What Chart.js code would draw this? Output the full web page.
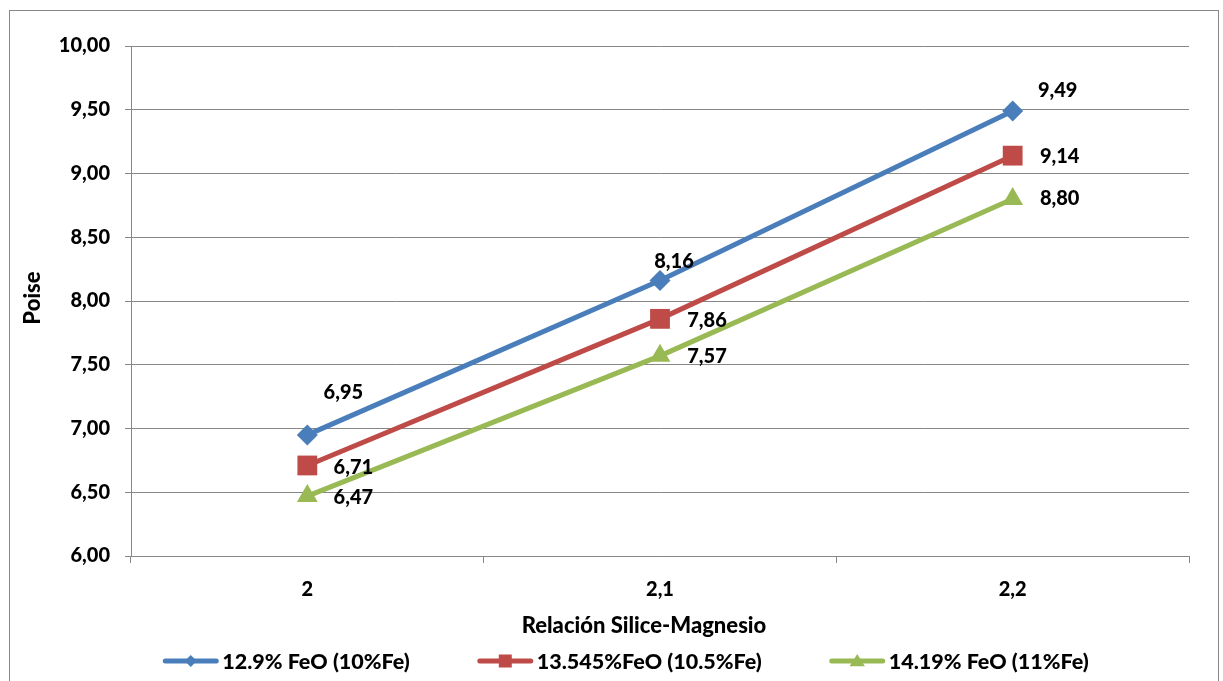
<!DOCTYPE html>
<html>
<head>
<meta charset="utf-8">
<title>Poise vs Relación Silice-Magnesio</title>
<script src="https://cdn.jsdelivr.net/npm/chart.js@4/dist/chart.umd.min.js"></script>
<style>
  html, body { margin: 0; padding: 0; background: #ffffff; }
  #wrap { width: 1223px; height: 681px; }
</style>
</head>
<body>
<div id="wrap"><canvas id="chart" width="1223" height="681"></canvas></div>
<script>
// Categories (Relación Silice-Magnesio) and viscosity series (Poise)
const categories = ['2', '2,1', '2,2'];
const seriesNames = ['12.9% FeO (10%Fe)', '13.545%FeO (10.5%Fe)', '14.19% FeO (11%Fe)'];
const feo129 = [6.95, 8.16, 9.49];
const feo13545 = [6.71, 7.86, 9.14];
const feo1419 = [6.47, 7.57, 8.80];
const yTicks = [6.0, 6.5, 7.0, 7.5, 8.0, 8.5, 9.0, 9.5, 10.0];
const xTitle = 'Relación Silice-Magnesio';
const yTitle = 'Poise';

const FONT = 'Lato, "Open Sans", sans-serif';
const WEIGHT = '900';
const GRID = '#878787';
const fmt = v => v.toFixed(2).replace('.', ',');

// Where each value label sits relative to its marker (dx, dy in px)
const labelOffsets = [
  [[36, -42], [14, -19], [45, -20]],
  [[46, 2], [47, 2], [47, 1]],
  [[46, 1], [47, 1], [47, 0]]
];

const frame = {
  id: 'frame',
  beforeDraw(chart) {
    const ctx = chart.ctx;
    ctx.save();
    ctx.fillStyle = '#ffffff';
    ctx.fillRect(0, 0, chart.width, chart.height);
    ctx.strokeStyle = GRID;
    ctx.lineWidth = 1;
    ctx.strokeRect(9.5, 10.5, 1209, 720);
    ctx.restore();
  }
};

// Axis titles, placed by hand
const axisTitles = {
  id: 'axisTitles',
  afterDraw(chart) {
    const ctx = chart.ctx;
    ctx.save();
    ctx.fillStyle = '#000000';
    ctx.textAlign = 'center';
    ctx.textBaseline = 'middle';
    ctx.font = WEIGHT + ' 22px ' + FONT;
    ctx.fillText(xTitle, 644, 626);
    ctx.translate(33, 298);
    ctx.rotate(-Math.PI / 2);
    ctx.fillText(yTitle, 0, 0);
    ctx.restore();
  }
};

const valueLabels = {
  id: 'valueLabels',
  afterDatasetsDraw(chart) {
    const ctx = chart.ctx;
    ctx.save();
    ctx.font = WEIGHT + ' 20px ' + FONT;
    ctx.fillStyle = '#000000';
    ctx.textAlign = 'center';
    ctx.textBaseline = 'middle';
    chart.data.datasets.forEach((ds, i) => {
      const meta = chart.getDatasetMeta(i);
      meta.data.forEach((pt, j) => {
        const off = labelOffsets[i][j];
        ctx.fillText(fmt(ds.data[j]), pt.x + off[0], pt.y + off[1]);
      });
    });
    ctx.restore();
  }
};

function drawMarker(ctx, style, x, y, r, color) {
  ctx.save();
  ctx.fillStyle = color;
  ctx.beginPath();
  if (style === 'rectRot') {
    ctx.moveTo(x, y - r); ctx.lineTo(x + r, y); ctx.lineTo(x, y + r); ctx.lineTo(x - r, y);
  } else if (style === 'rect') {
    ctx.rect(x - r, y - r, 2 * r, 2 * r);
  } else {
    ctx.moveTo(x, y - r); ctx.lineTo(x + r * 1.1, y + r * 0.75); ctx.lineTo(x - r * 1.1, y + r * 0.75);
  }
  ctx.closePath();
  ctx.fill();
  ctx.restore();
}

// Legend drawn as line + marker samples along the bottom
const lineLegend = {
  id: 'lineLegend',
  afterDraw(chart) {
    const ctx = chart.ctx;
    const lineLen = 55, gap = 4, spacing = 68, cy = 661, centerX = 626;
    ctx.save();
    ctx.font = WEIGHT + ' 21.5px ' + FONT;
    const widths = chart.data.datasets.map(ds => ctx.measureText(ds.label).width);
    const total = widths.reduce((a, w) => a + lineLen + gap + w, 0) + spacing * (widths.length - 1);
    let x = centerX - total / 2;
    const sizes = [6, 6.5, 7];
    chart.data.datasets.forEach((ds, i) => {
      ctx.strokeStyle = ds.borderColor;
      ctx.lineWidth = 5;
      ctx.lineCap = 'round';
      ctx.beginPath();
      ctx.moveTo(x + 2, cy); ctx.lineTo(x + lineLen - 2, cy);
      ctx.stroke();
      drawMarker(ctx, ds.pointStyle, x + lineLen / 2, cy, sizes[i], ds.borderColor);
      ctx.fillStyle = '#000000';
      ctx.textAlign = 'left';
      ctx.textBaseline = 'middle';
      ctx.fillText(ds.label, x + lineLen + gap, cy + 1);
      x += lineLen + gap + widths[i] + spacing;
    });
    ctx.restore();
  }
};

const makeSeries = (label, data, color, style, radius) => ({
  label, data,
  borderColor: color, backgroundColor: color,
  borderWidth: 5,
  pointStyle: style, pointRadius: radius, pointHoverRadius: radius,
  pointBorderWidth: 0, pointBackgroundColor: color,
  tension: 0
});

new Chart(document.getElementById('chart'), {
  type: 'line',
  data: {
    labels: categories,
    datasets: [
      makeSeries(seriesNames[0], feo129, '#4A7EBB', 'rectRot', 10.5),
      makeSeries(seriesNames[1], feo13545, '#BE4B48', 'rect', 14),
      makeSeries(seriesNames[2], feo1419, '#98B954', 'triangle', 12)
    ]
  },
  options: {
    responsive: false,
    animation: false,
    devicePixelRatio: 1,
    layout: { padding: { left: 20, top: 46, right: 34, bottom: 44 } },
    plugins: {
      legend: { display: false },
      tooltip: { enabled: false }
    },
    scales: {
      x: {
        type: 'category',
        offset: true,
        grid: { offset: true, drawOnChartArea: false, drawTicks: true, tickLength: 7, color: GRID, lineWidth: 1 },
        border: { display: true, color: GRID, width: 1 },
        ticks: { color: '#000', font: { family: FONT, size: 20, weight: WEIGHT }, padding: 15 },
        afterFit(scale) { scale.height = 81; }
      },
      y: {
        min: 6, max: 10,
        afterBuildTicks(scale) { scale.ticks = yTicks.map(v => ({ value: v })); },
        grid: { color: GRID, lineWidth: 1, drawTicks: true, tickLength: 6 },
        border: { display: true, color: GRID, width: 1 },
        ticks: { color: '#000', font: { family: FONT, size: 20, weight: WEIGHT }, padding: 15,
                 callback: v => fmt(v) },
        afterFit(scale) { scale.width = 111; }
      }
    }
  },
  plugins: [frame, axisTitles, valueLabels, lineLegend]
});
</script>
</body>
</html>
